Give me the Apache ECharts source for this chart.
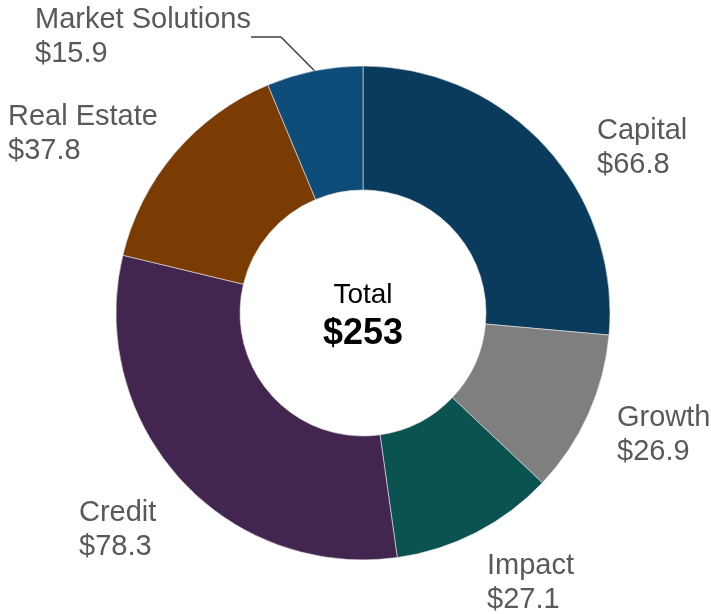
<!DOCTYPE html>
<html>
<head>
<meta charset="utf-8">
<script src="https://cdn.jsdelivr.net/npm/echarts@6/dist/echarts.min.js"></script>
<style>
  html, body { margin: 0; padding: 0; background: #fff; }
  #chart { width: 711px; height: 614px; }
</style>
</head>
<body>
<div id="chart"></div>
<script>
// data
const categories = ["Capital", "Growth", "Impact", "Credit", "Real Estate", "Market Solutions"];
const values = [66.8, 26.9, 27.1, 78.3, 37.8, 15.9];
const totalLabel = "$253";

// slice colours
const colors = ["#0a3a5c", "#7f7f7f", "#0b5351", "#43264f", "#7b3c03", "#0e4c7a"];
// label top-left corners
const labelPos = [[597, 114], [617, 401], [487, 549], [79, 496], [8, 100], [35, 3]];

let myChart = echarts.init(document.getElementById("chart"));

myChart.setOption({
  animation: false,
  title: {
    text: "{a|Total}\n{b|" + totalLabel + "}",
    left: 358,
    top: 271,
    textAlign: "center",
    textStyle: {
      rich: {
        a: { fontFamily: "Liberation Sans", fontSize: 28, fontWeight: "normal", color: "#000", lineHeight: 38 },
        b: { fontFamily: "Liberation Sans", fontSize: 36, fontWeight: "bold", color: "#000", lineHeight: 40 },
      },
    },
  },
  series: [
    {
      type: "pie",
      center: [363, 313],
      radius: [123, 247],
      startAngle: 90,
      clockwise: true,
      itemStyle: {
        borderColor: "#e8e8e8",
        borderWidth: 0.6,
      },
      label: {
        show: true,
        position: "outside",
        formatter: "{b}\n${c}",
        fontFamily: "Liberation Sans",
        fontSize: 29,
        lineHeight: 34,
        color: "#595959",
        overflow: "none",
      },
      labelLine: { show: false },
      labelLayout: function (params) {
        let p = labelPos[params.dataIndex];
        return { x: p[0], y: p[1], align: "left", verticalAlign: "top" };
      },
      emphasis: { disabled: true },
      data: categories.map(function (name, i) {
        let item = { name: name, value: values[i], itemStyle: { color: colors[i] } };
        if (name === "Market Solutions") {
          item.labelLine = { show: true, lineStyle: { color: "#404040", width: 1.5 } };
        }
        return item;
      }),
    },
  ],
});
</script>
</body>
</html>
